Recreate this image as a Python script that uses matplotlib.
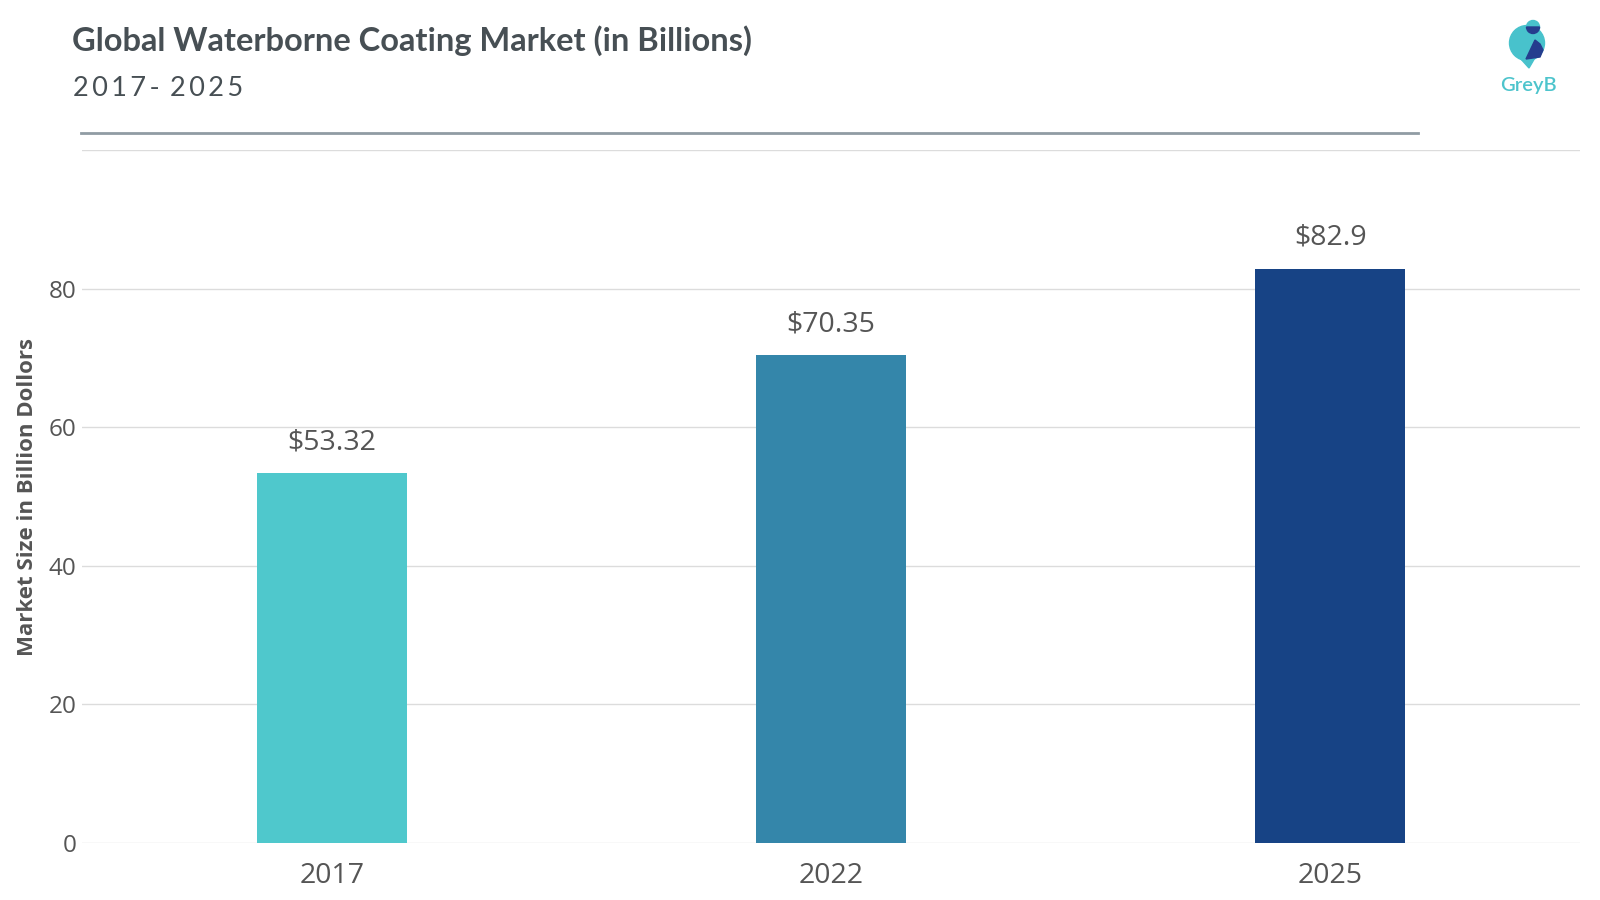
import matplotlib
matplotlib.use("Agg")
import matplotlib.pyplot as plt
from matplotlib.patches import Circle, Wedge, Polygon

categories = ["2017", "2022", "2025"]
values = [53.32, 70.35, 82.9]
labels = ["$53.32", "$70.35", "$82.9"]
colors = ["#4fc8cc", "#3486aa", "#174385"]
yticks = [0, 20, 40, 60, 80]

W, H = 1600, 900
fig = plt.figure(figsize=(16, 9), dpi=100)
ax = fig.add_axes([82 / W, 1 - 843 / H, 1498 / W, (843 - 150) / H])

x = list(range(len(categories)))
ax.bar(x, values, width=0.3, color=colors, zorder=3)
for xi, v, lab in zip(x, values, labels):
    ax.text(xi, v + 2.5, lab, ha="center", va="bottom", fontsize=20.5,
            family="Open Sans", color="#555555")

ax.set_xlim(-0.5, 2.5)
ax.set_ylim(0, 100)
ax.set_yticks(yticks)
ax.set_xticks(x)
ax.set_xticklabels(categories, fontsize=20.5, family="Open Sans", color="#555555")
ax.set_yticklabels([str(t) for t in yticks], fontsize=17.5, family="Open Sans", color="#555555")
ax.tick_params(axis="both", length=0)
ax.tick_params(axis="x", pad=14)
ax.tick_params(axis="y", pad=4)
for t in yticks + [100]:
    ax.axhline(t, color="#dcdcdc", lw=1, zorder=1)
for s in ax.spines.values():
    s.set_visible(False)
ax.set_ylabel("Market Size in Billion Dollors", fontsize=16, family="Open Sans",
              fontweight="bold", color="#555555")
ax.yaxis.set_label_coords((38 - 82) / 1498, 0.5)

fig.text(0.045, 0.955, "Global Waterborne Coating Market (in Billions)", fontsize=23.5,
         family="Lato", fontweight="bold", color="#474f54", va="center")
fig.text(0.0455, 0.902, "2\u20090\u20091\u20097\u2009-\u2009 2\u20090\u20092\u20095", fontsize=19.5,
         family=["Lato", "DejaVu Sans"], color="#474f54", va="center")
fig.add_artist(plt.Line2D([0.0506, 0.886], [0.852, 0.852], color="#909ca4", lw=2,
                          transform=fig.transFigure))

# logo (pixel coordinates inside a small box)
bx0, by0, bw, bh = 1495, 10, 70, 65
lax = fig.add_axes([bx0 / W, 1 - (by0 + bh) / H, bw / W, bh / H])
lax.set_xlim(bx0, bx0 + bw)
lax.set_ylim(by0 + bh, by0)
lax.axis("off")
teal = "#48c2cc"
navy = "#253d8e"
lax.add_patch(Circle((1527, 43), 17.5, color=teal))
lax.add_patch(Polygon([(1520, 58), (1536, 56), (1529, 68)], closed=True, color=teal))
lax.add_patch(Circle((1533, 27), 6.5, color=teal))
lax.add_patch(Wedge((1533, 27), 6.5, 0, 180, color=navy))
lax.add_patch(Polygon([(1535, 40), (1540, 44), (1543, 50), (1540, 57), (1526, 59)],
                      closed=True, color=navy))
fig.text(1528 / W, 1 - 85 / H, "GreyB", fontsize=14.5, family="Lato", fontweight="semibold",
         color="#4dc4cc", ha="center", va="center")

fig.savefig("out.png", dpi=100)
